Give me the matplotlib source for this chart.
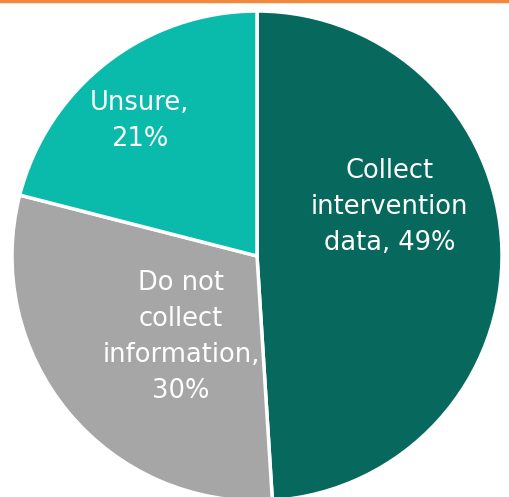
import matplotlib.pyplot as plt
from matplotlib.lines import Line2D

# Slice data (clockwise from 12 o'clock)
labels = ['Collect\nintervention\ndata, 49%', 'Do not\ncollect\ninformation,\n30%', 'Unsure,\n21%']
values = [49, 30, 21]
colors = ['#07695D', '#A6A6A6', '#0ABAAA']
label_pos = [(0.54, 0.20), (-0.31, -0.33), (-0.48, 0.55)]

fig = plt.figure(figsize=(5.10, 4.97), dpi=100)

# axes sized so the pie radius is ~245 px, centred at (257, 256) from the top
ax = fig.add_axes([12 / 510, (241 - 245) / 497, 490 / 510, 490 / 497])
ax.pie(values, colors=colors, startangle=90, counterclock=False, radius=1,
       wedgeprops=dict(edgecolor='white', linewidth=2.5))
ax.set_xlim(-1, 1)
ax.set_ylim(-1, 1)
ax.set_aspect('auto')
ax.axis('off')

for lab, (x, y) in zip(labels, label_pos):
    ax.text(x, y, lab, ha='center', va='center', color='white',
            fontsize=18.5, family='DejaVu Sans', linespacing=1.5)

# orange rule along the top edge
fig.add_artist(Line2D([0, 1], [0.997, 0.997], color='#F0883E', linewidth=2.5,
                      transform=fig.transFigure))

fig.savefig('out.png', dpi=100)
